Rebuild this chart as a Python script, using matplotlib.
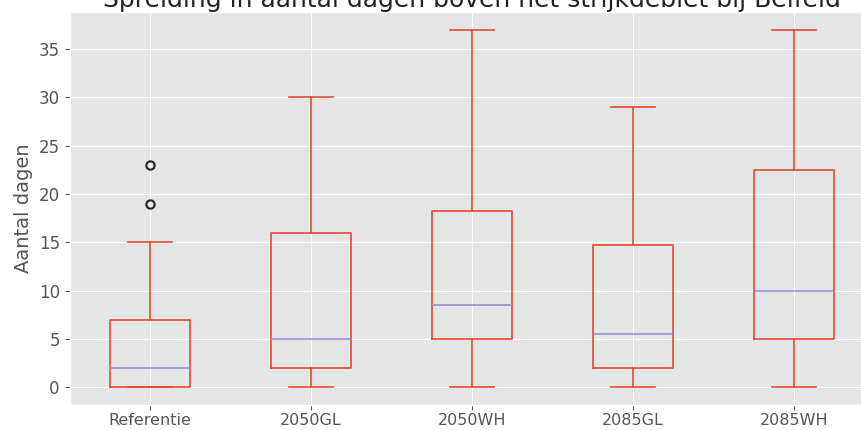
import matplotlib
matplotlib.use("Agg")
import matplotlib.pyplot as plt

plt.style.use("ggplot")

# box statistics
labels = ["Referentie", "2050GL", "2050WH", "2085GL", "2085WH"]
whislo = [0, 0, 0, 0, 0]
q1 = [0, 2, 5, 2, 5]
med = [2, 5, 8.5, 5.5, 10]
q3 = [7, 16, 18.2, 14.7, 22.5]
whishi = [15, 30, 37, 29, 37]
fliers = [[19, 23], [], [], [], []]

stats = []
for i in range(len(labels)):
    stats.append({"label": labels[i], "whislo": whislo[i], "q1": q1[i], "med": med[i],
                  "q3": q3[i], "whishi": whishi[i], "fliers": fliers[i]})

fig = plt.figure(figsize=(8.61, 4.30), dpi=100)
ax = fig.add_axes([69.5 / 861, 25 / 430, 805 / 861, 393 / 430])

red = "#E24A33"
purple = "#988ED5"
ax.bxp(stats, capwidths=0.27,
       boxprops=dict(color=red, linewidth=1.2),
       whiskerprops=dict(color=red, linewidth=1.2),
       capprops=dict(color=red, linewidth=1.2),
       medianprops=dict(color=purple, linewidth=1.2),
       flierprops=dict(marker="o", markerfacecolor="none", markeredgecolor="#222222",
                       markersize=6, markeredgewidth=1.5))

ax.set_ylim(-1.85, 38.85)
ax.set_yticks(range(0, 36, 5))
ax.set_ylabel("Aantal dagen", fontsize=14, color="#555555")
ax.tick_params(labelsize=12)
ax.tick_params(axis="x", labelsize=11.5, pad=2)
ax.set_title("Spreiding in aantal dagen boven het strijkdebiet bij Belfeld",
             fontsize=18, pad=1, color="#222222")

fig.savefig("out.png", dpi=100)
